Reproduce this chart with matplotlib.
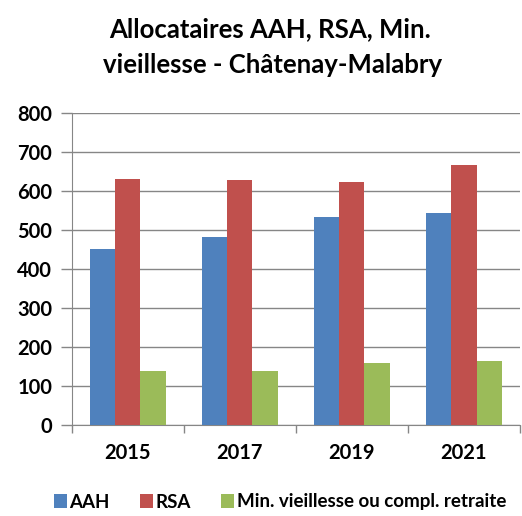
import matplotlib
matplotlib.use("Agg")
import matplotlib.pyplot as plt
import numpy as np
from matplotlib.patches import Patch

plt.rcParams['font.family'] = ['Lato', 'DejaVu Sans']

years = ['2015', '2017', '2019', '2021']
aah = [452, 483, 535, 545]
rsa = [632, 628, 623, 668]
minv = [139, 139, 160, 165]
series_names = ['AAH', 'RSA', 'Min. vieillesse ou compl. retraite']
colors = ['#4F81BD', '#C0504D', '#9BBB59']

fig = plt.figure(figsize=(5.22, 5.16), dpi=100)
ax = fig.add_axes([0.1373, 0.1763, 0.8587, 0.6041])

x = np.arange(len(years))
w = 0.226
for i, vals in enumerate((aah, rsa, minv)):
    ax.bar(x + (i - 1) * w, vals, w, color=colors[i], zorder=3, label=series_names[i])

ax.set_xlim(-0.5, len(years) - 0.5)
ax.set_ylim(0, 800)
ax.set_yticks(range(0, 801, 100))
ax.yaxis.grid(True, color='#868686', linewidth=1, zorder=0)

ax.set_xticks(x)
ax.set_xticklabels(years, fontsize=14.5, fontweight='bold')
ax.set_xticks(np.arange(-0.5, len(years)), minor=True)
ax.tick_params(axis='x', which='major', length=0, pad=13)
ax.tick_params(axis='x', which='minor', length=6, color='#868686', width=1)
ax.tick_params(axis='y', length=8, color='#868686', width=1, pad=6, labelsize=14.5)
for lbl in ax.get_yticklabels():
    lbl.set_fontweight('bold')

for s in ('top', 'right'):
    ax.spines[s].set_visible(False)
for s in ('left', 'bottom'):
    ax.spines[s].set_color('#868686')

fig.text(270 / 522, 1 - 29 / 516, 'Allocataires AAH, RSA, Min.', ha='center', va='center',
         fontsize=18.5, fontweight='bold')
fig.text(273 / 522, 1 - 65 / 516, 'vieillesse - Châtenay-Malabry', ha='center', va='center',
         fontsize=18.5, fontweight='bold')

handles = [Patch(facecolor=c) for c in colors]
fig.legend(handles, series_names, loc='center', bbox_to_anchor=(280 / 522, 1 - 502 / 516),
           ncol=3, frameon=False, handlelength=0.7, handleheight=0.7,
           handletextpad=0.15, columnspacing=1.6, prop={'weight': 'bold', 'size': 13.5})

fig.savefig('out.png', dpi=100)
